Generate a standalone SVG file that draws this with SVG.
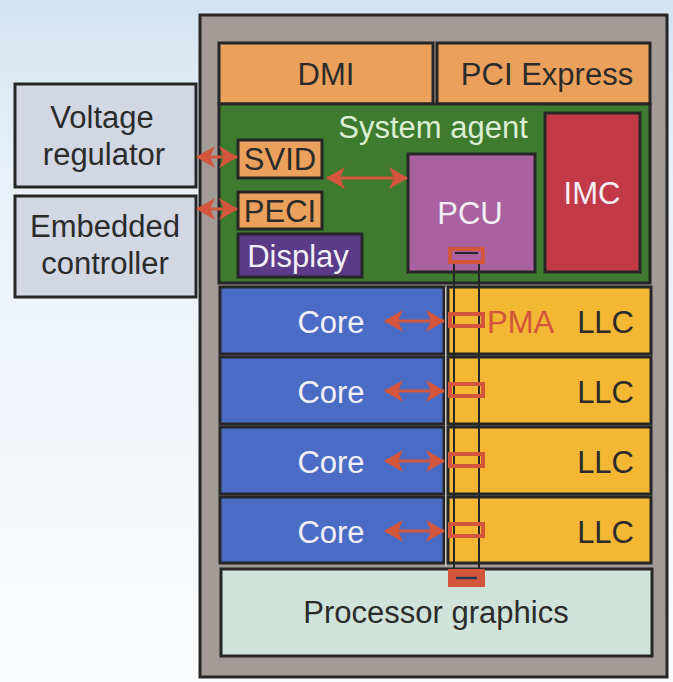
<svg xmlns="http://www.w3.org/2000/svg" width="673" height="682" viewBox="0 0 673 682">
<defs>
<linearGradient id="bg" x1="0" y1="0" x2="0" y2="1">
<stop offset="0" stop-color="#d3e3f1"/>
<stop offset="0.25" stop-color="#e9f0f7"/>
<stop offset="1" stop-color="#fbfcfd"/>
</linearGradient>
<marker id="ah" viewBox="0 0 19 22" refX="18" refY="11" markerWidth="19" markerHeight="22" markerUnits="userSpaceOnUse" orient="auto-start-reverse">
<path d="M0,0 L19,11 L0,22 L5,11 Z" fill="#d2553c"/>
</marker>
</defs>
<style>
.blk{stroke:#262626;stroke-width:3}
.t{font-family:"Liberation Sans",Arial,sans-serif;font-size:31px;text-anchor:middle}
.r{text-anchor:end}
.dk{fill:#2b2b2b}
.wt{fill:#f2f0f6}
.arr{stroke:#d2553c;stroke-width:3;fill:none;marker-start:url(#ah);marker-end:url(#ah)}
.pma{fill:none;stroke:#d2553c;stroke-width:4}
.bus{stroke:#262626;stroke-width:2;fill:none}
</style>
<rect x="0" y="0" width="673" height="682" fill="url(#bg)"/>
<g id="chip"><rect x="200" y="15" width="467" height="662" fill="#a39b98" class="blk"/></g>
<g id="dmi"><rect x="219" y="43" width="214" height="61" fill="#eba15c" class="blk"/><text x="326" y="85" class="t dk">DMI</text></g>
<g id="pcie"><rect x="437" y="43" width="213" height="61" fill="#eba15c" class="blk"/><text x="547" y="85" class="t dk">PCI Express</text></g>
<g id="system-agent"><rect x="219" y="104" width="431" height="179" fill="#3f7b2f" class="blk"/><text x="433" y="138" class="t" fill="#dcefd4">System agent</text></g>
<g id="imc"><rect x="545" y="113" width="95" height="159" fill="#c23a48" class="blk"/><text x="592" y="204" class="t wt">IMC</text></g>
<g id="pcu"><rect x="408" y="154" width="127" height="118" fill="#a9629f" class="blk"/><text x="470" y="224" class="t wt">PCU</text></g>
<g id="svid"><rect x="238" y="140" width="84" height="38" fill="#eba15c" class="blk"/><text x="280" y="170" class="t dk">SVID</text></g>
<g id="peci"><rect x="238" y="192" width="84" height="37" fill="#eba15c" class="blk"/><text x="280" y="222" class="t dk">PECI</text></g>
<g id="display"><rect x="238" y="234" width="124" height="43" fill="#5b3b88" class="blk"/><text x="298" y="267" class="t wt">Display</text></g>
<g id="voltage-regulator"><rect x="15" y="84" width="181" height="103" fill="#d2d7e3" class="blk"/><text x="102" y="128" class="t dk">Voltage</text><text x="104" y="165" class="t dk">regulator</text></g>
<g id="embedded-controller"><rect x="15" y="196" width="181" height="101" fill="#d2d7e3" class="blk"/><text x="105" y="237" class="t dk">Embedded</text><text x="105" y="274" class="t dk">controller</text></g>
<g id="core1"><rect x="220" y="287" width="224" height="67" fill="#4a6cc5" class="blk"/><text x="331" y="333" class="t wt">Core</text></g>
<g id="core2"><rect x="220" y="357" width="224" height="67" fill="#4a6cc5" class="blk"/><text x="331" y="403" class="t wt">Core</text></g>
<g id="core3"><rect x="220" y="427" width="224" height="67" fill="#4a6cc5" class="blk"/><text x="331" y="473" class="t wt">Core</text></g>
<g id="core4"><rect x="220" y="497" width="224" height="66" fill="#4a6cc5" class="blk"/><text x="331" y="543" class="t wt">Core</text></g>
<line x1="446" y1="287" x2="446" y2="566" stroke="#e8e2dc" stroke-width="1.5"/>
<g id="llc1"><rect x="448" y="287" width="203" height="67" fill="#f3b733" class="blk"/><text x="634" y="333" class="t dk r">LLC</text></g>
<g id="llc2"><rect x="448" y="357" width="203" height="67" fill="#f3b733" class="blk"/><text x="634" y="403" class="t dk r">LLC</text></g>
<g id="llc3"><rect x="448" y="427" width="203" height="67" fill="#f3b733" class="blk"/><text x="634" y="473" class="t dk r">LLC</text></g>
<g id="llc4"><rect x="448" y="497" width="203" height="66" fill="#f3b733" class="blk"/><text x="634" y="543" class="t dk r">LLC</text></g>
<g id="graphics"><rect x="221" y="569" width="431" height="87" fill="#cfe3da" class="blk"/><text x="436" y="623" class="t dk">Processor graphics</text></g>
<g id="connectors">
<line class="bus" x1="454" y1="262" x2="454" y2="575"/>
<line class="bus" x1="479" y1="262" x2="479" y2="575"/>
<g id="pma-stops">
<rect class="pma" x="450" y="249" width="33" height="13"/><line x1="455" y1="253" x2="478" y2="253" stroke="#262626" stroke-width="2"/>
<rect class="pma" x="450" y="314" width="33" height="12"/>
<rect class="pma" x="450" y="384" width="33" height="12"/>
<rect class="pma" x="450" y="454" width="33" height="12"/>
<rect class="pma" x="450" y="524" width="33" height="12"/>
<rect class="pma" x="450" y="571" width="33" height="14" style="fill:#d2553c"/><line x1="456" y1="578" x2="477" y2="578" stroke="#2b3a55" stroke-width="2.5"/>
</g>
<text x="487" y="333" font-family="Liberation Sans, Arial, sans-serif" font-size="31" fill="#d2553c">PMA</text>
<line class="arr" x1="197" y1="157" x2="237" y2="157"/>
<line class="arr" x1="197" y1="209" x2="237" y2="209"/>
<line class="arr" x1="327" y1="178" x2="407" y2="178"/>
<line class="arr" x1="385" y1="321" x2="444" y2="321"/>
<line class="arr" x1="385" y1="391" x2="444" y2="391"/>
<line class="arr" x1="385" y1="461" x2="444" y2="461"/>
<line class="arr" x1="385" y1="531" x2="444" y2="531"/>
</g>
</svg>
